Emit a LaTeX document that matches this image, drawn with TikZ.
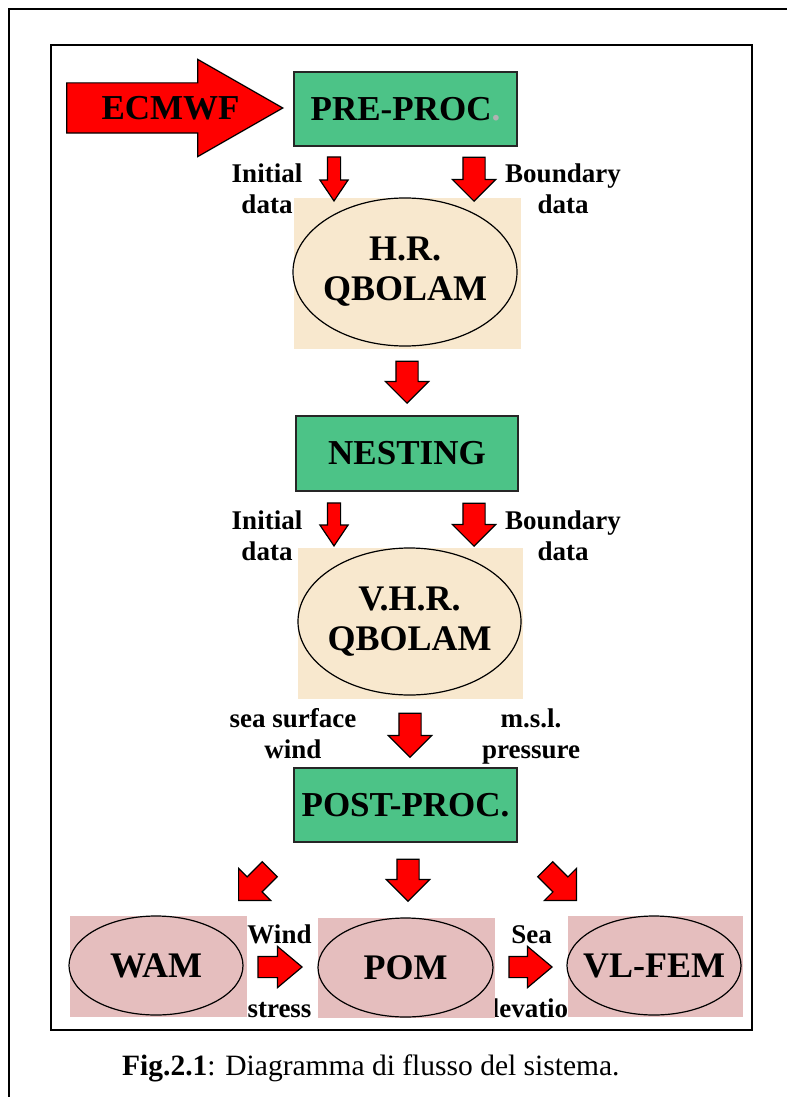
\documentclass[tikz,border=0pt]{standalone}
\usepackage{fontspec}
\setmainfont{Liberation Serif}
\usetikzlibrary{shapes.geometric, shapes.arrows, calc}
\definecolor{procGreen}{RGB}{76,195,135}
\definecolor{hrBeige}{RGB}{248,232,206}
\definecolor{seaPink}{RGB}{229,190,190}

\begin{document}
\begin{tikzpicture}[
    x=1pt, y=-1pt,
    proc/.style={draw=black!85, fill=procGreen, line width=1.5pt, minimum width=223pt, minimum height=74pt, inner sep=0pt, font=\fontsize{35}{40}\selectfont\bfseries},
    backdrop/.style={fill=#1, inner sep=0pt},
    model/.style={ellipse, draw, line width=1.2pt, inner xsep=-20pt, inner ysep=0pt, align=center, font=\fontsize{36}{40}\selectfont\bfseries},
    tag/.style={align=center, font=\fontsize{27}{31}\selectfont\bfseries},
    redarrow/.style={single arrow, draw=black, fill=red, line width=1.2pt, inner xsep=0pt, inner ysep=10.5pt, anchor=tip, single arrow head indent=0pt, minimum height=44pt, minimum width=42pt, single arrow head extend=10.5pt, single arrow tip angle=90},
    thinarrow/.style={redarrow, inner ysep=6pt, minimum width=27pt, single arrow head extend=7.5pt, single arrow tip angle=68},
    sidearrow/.style={redarrow, inner ysep=10pt, minimum width=40pt, single arrow head extend=10pt, single arrow tip angle=80},
    slantarrow/.style={redarrow, inner ysep=10pt, minimum width=44pt, single arrow head extend=12pt}
  ]
  \useasboundingbox (0,0) rectangle (787,1097);

  % Page and figure frames
  \draw[line width=2pt] (9,1097) -- (9,9) -- (787,9);
  \draw[line width=2pt] (51,45) rectangle (752,1030);

  % Coupling labels, partly hidden by the backdrops
  \node[tag, anchor=base] (windlbl) at (279.5,943) {Wind};
  \node[tag, anchor=base] (stresslbl) at (279.5,1017) {stress};
  \node[tag, anchor=base] (sealbl) at (531.5,943) {Sea};
  \node[tag, anchor=base] (elevlbl) at (531.5,1017) {elevation};

  % Atmospheric models
  \node[backdrop=hrBeige, minimum width=227pt, minimum height=151pt] (hrbg) at (407.5,273.5) {};
  \node[model, minimum width=224pt, minimum height=148pt] (hr) at (405,272) {H.R.\\QBOLAM};
  \node[backdrop=hrBeige, minimum width=225pt, minimum height=151pt] (vhrbg) at (410.5,623.5) {};
  \node[model, minimum width=223pt, minimum height=147pt] (vhr) at (409.5,621.5) {V.H.R.\\QBOLAM};

  % Sea models
  \node[backdrop=seaPink, minimum width=177pt, minimum height=101pt] (wambg) at (158.5,966.5) {};
  \node[model, minimum width=174pt, minimum height=99pt] (wam) at (156,965.5) {WAM};
  \node[backdrop=seaPink, minimum width=177pt, minimum height=100pt] (pombg) at (406.5,968) {};
  \node[model, minimum width=175pt, minimum height=99pt] (pom) at (405.5,967.5) {POM};
  \node[backdrop=seaPink, minimum width=175pt, minimum height=101pt] (vlfembg) at (655.5,966.5) {};
  \node[model, minimum width=174pt, minimum height=99pt] (vlfem) at (654,965.5) {VL-FEM};

  % Processing steps
  \node[proc] (pre) at (405.5,109) {PRE-PROC{\color{black!30}.}};
  \node[proc, minimum width=222pt, minimum height=75pt] (nest) at (407,453.5) {NESTING};
  \node[proc] (post) at (405.5,805) {\raisebox{-5pt}{POST-PROC.}};

  % Input
  \node[redarrow, inner ysep=24.5pt, minimum height=216pt, minimum width=96pt, single arrow head extend=23.5pt, single arrow tip angle=59.5] (ecmwf) at (284,108) {};
  \node[font=\fontsize{35}{40}\selectfont\bfseries] (ecmwflbl) at ($(ecmwf.tail)!0.479!(ecmwf.tip)$) {ECMWF};

  % Data flow
  \node[thinarrow, rotate=-90] (hrinit) at (334,202) {};
  \node[redarrow, rotate=-90] (hrbnd) at (474,202) {};
  \node[redarrow, rotate=-90, minimum height=42pt] (tonest) at (407,404) {};
  \node[thinarrow, rotate=-90, minimum height=43pt] (vhrinit) at (334,547) {};
  \node[redarrow, rotate=-90, minimum height=43pt] (vhrbnd) at (474,547) {};
  \node[redarrow, rotate=-90] (topost) at (410,758) {};
  \node[slantarrow, rotate=-135] (towam) at (238,901) {};
  \node[redarrow, rotate=-90, minimum height=42pt] (topom) at (408,902) {};
  \node[slantarrow, rotate=-45] (tovlfem) at (577,901) {};
  \node[sidearrow] (wampom) at (303,967) {};
  \node[sidearrow, minimum height=43pt] (pomvlfem) at (553,967) {};

  % Flow labels
  \node[tag] (init1) at (267,189) {Initial\\data};
  \node[tag] (bnd1) at (563,189) {Boundary\\data};
  \node[tag] (init2) at (267,536) {Initial\\data};
  \node[tag] (bnd2) at (563,536) {Boundary\\data};
  \node[tag] (surfwind) at (293,734) {sea surface\\wind};
  \node[tag] (mslp) at (531,736) {m.s.l.\\pressure};

  % Caption
  \node[anchor=base west, inner sep=0pt, font=\fontsize{29.5}{34}\selectfont] (caption) at (122,1075) {\textbf{Fig.2.1}: Diagramma di flusso del sistema.};
\end{tikzpicture}
\end{document}
